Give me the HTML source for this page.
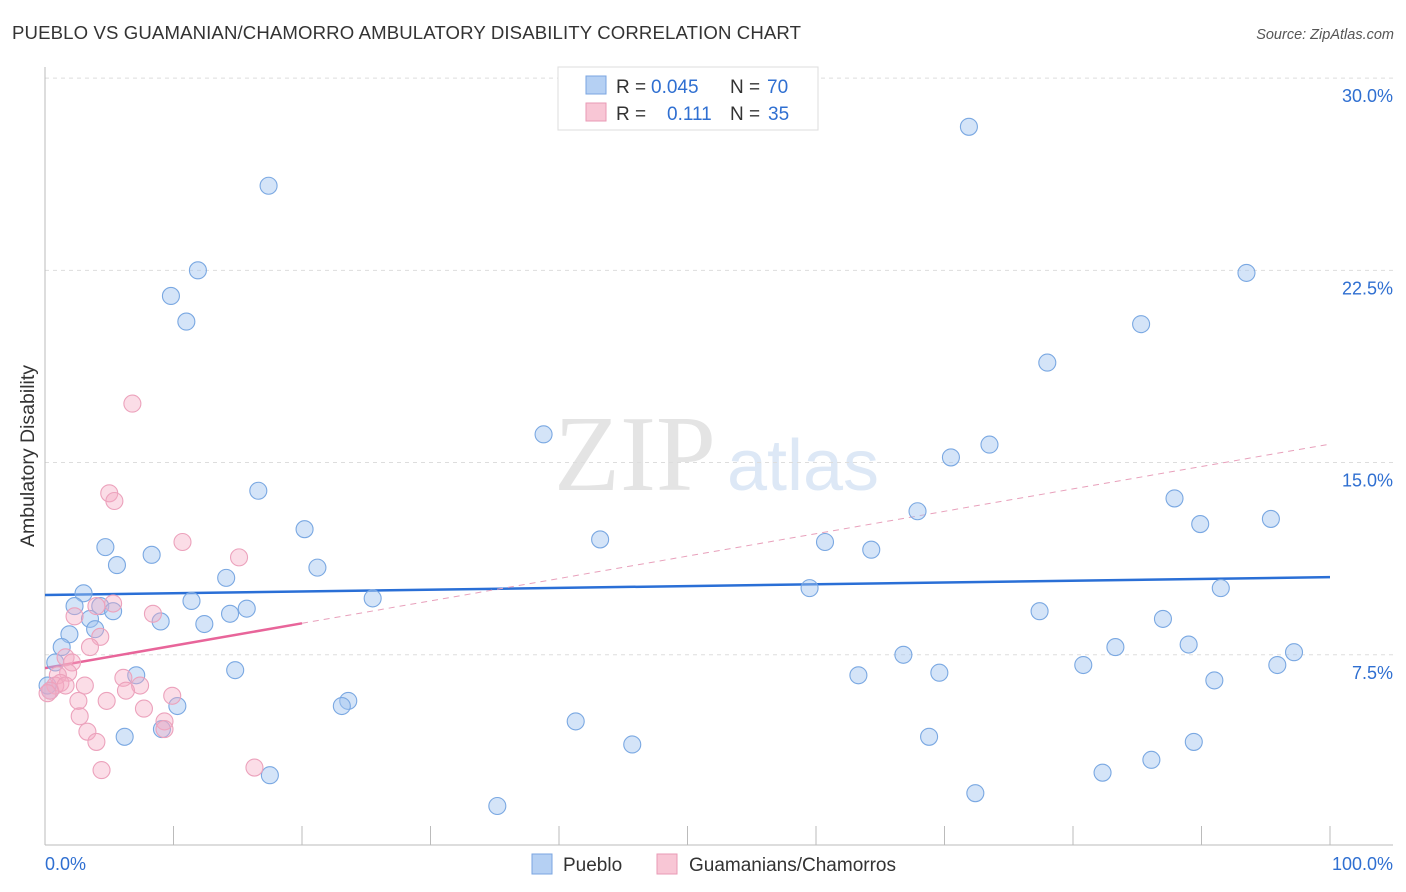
<!DOCTYPE html>
<html><head><meta charset="utf-8"><style>
body{margin:0;background:#fff;font-family:"Liberation Sans",sans-serif;}
svg{display:block}
</style></head><body>
<svg id="chart" width="1406" height="892">
<text x="12" y="39" font-size="18.6" fill="#333" textLength="789">PUEBLO VS GUAMANIAN/CHAMORRO AMBULATORY DISABILITY CORRELATION CHART</text>
<text x="1394" y="39" font-size="14.5" fill="#555" font-style="italic" text-anchor="end">Source: ZipAtlas.com</text>
<text transform="translate(34,456) rotate(-90)" font-size="19.5" fill="#333" text-anchor="middle">Ambulatory Disability</text>
<g><text x="635" y="490" font-size="108" fill="#e4e4e4" font-family="Liberation Serif,serif" text-anchor="middle">ZIP</text><text x="803" y="490" font-size="72" fill="#dde8f6" text-anchor="middle">atlas</text></g>
<g id="grid"></g><g id="axes"></g><g id="trends"></g><g id="pts"></g>
<g>
<rect x="558" y="67" width="260" height="63" fill="#fff" stroke="#ddd"/>
<rect x="586" y="76" width="20" height="18" fill="#b5d0f3" stroke="#7aa5e0"/>
<g font-size="19">
<text x="616" y="93" fill="#333">R =</text><text x="651" y="93" fill="#2f6fd1">0.045</text><text x="730" y="93" fill="#333">N =</text><text x="767" y="93" fill="#2f6fd1">70</text></g>
<rect x="586" y="103" width="20" height="18" fill="#f8c6d5" stroke="#e99ab5"/>
<g font-size="19">
<text x="616" y="120" fill="#333">R =</text><text x="667" y="120" fill="#2f6fd1">0.111</text><text x="730" y="120" fill="#333">N =</text><text x="768" y="120" fill="#2f6fd1">35</text></g>
</g>
<g>
<rect x="532" y="854" width="20" height="20" fill="#b5d0f3" stroke="#7aa5e0"/>
<text x="563" y="871" font-size="19" fill="#333">Pueblo</text>
<rect x="657" y="854" width="20" height="20" fill="#f8c6d5" stroke="#e99ab5"/>
<text x="689" y="871" font-size="19" fill="#333">Guamanians/Chamorros</text>
</g>
</svg>
<script>
const yTicks=[7.5,15,22.5,30];
const yTickLabels=["7.5%","15.0%","22.5%","30.0%"];
const xTickCount=10;
const blueX=[17.4,11.9,9.8,11.0,71.9,93.5,85.3,78.0,38.8,70.5,73.5,16.6,87.9,67.9,95.4,89.9,20.2,43.2,60.7,64.3,4.7,8.3,5.6,21.2,14.1,3.0,59.5,91.5,11.4,25.5,2.3,4.3,5.3,15.7,14.4,3.5,9.0,77.4,87.0,12.4,3.9,1.9,1.3,83.3,89.0,66.8,97.2,0.8,80.8,95.9,7.1,14.8,63.3,69.6,91.0,23.6,23.1,10.3,9.1,41.3,6.2,68.8,45.7,89.4,86.1,82.3,17.5,72.4,35.2,0.4,0.2];
const blueY=[25.8,22.5,21.5,20.5,28.1,22.4,20.4,18.9,16.1,15.2,15.7,13.9,13.6,13.1,12.8,12.6,12.4,12.0,11.9,11.6,11.7,11.4,11.0,10.9,10.5,9.9,10.1,10.1,9.6,9.7,9.4,9.4,9.2,9.3,9.1,8.9,8.8,9.2,8.9,8.7,8.5,8.3,7.8,7.8,7.9,7.5,7.6,7.2,7.1,7.1,6.7,6.9,6.7,6.8,6.5,5.7,5.5,5.5,4.6,4.9,4.3,4.3,4.0,4.1,3.4,2.9,2.8,2.1,1.6,6.1,6.3];
const pinkX=[6.8,5.0,5.4,10.7,15.1,2.3,4.0,5.3,8.4,4.3,3.5,1.6,2.1,1.8,1.0,1.2,0.8,0.4,0.2,3.1,6.1,7.4,6.3,9.9,2.6,4.8,7.7,2.7,9.3,3.3,9.3,4.0,4.4,16.3,1.6];
const pinkY=[17.3,13.8,13.5,11.9,11.3,9.0,9.4,9.5,9.1,8.2,7.8,7.4,7.2,6.8,6.7,6.4,6.3,6.1,6.0,6.3,6.6,6.3,6.1,5.9,5.7,5.7,5.4,5.1,4.9,4.5,4.6,4.1,3.0,3.1,6.3];
const blueTrend=[9.83,10.53];
const pinkTrend=[6.98,15.72];
const pinkSolidEnd=20;
const NS="http://www.w3.org/2000/svg";
const X0=45,X1=1330,Y0=847,YS=25.63;
function sx(v){return X0+(X1-X0)*v/100;}
function sy(v){return Y0-v*YS;}
function mk(p,tag,at){const e=document.createElementNS(NS,tag);for(const k in at)e.setAttribute(k,at[k]);document.getElementById(p).appendChild(e);return e;}
yTicks.forEach((t,i)=>{
const g=mk('grid','line',{x1:45,x2:1393,y1:sy(t),y2:sy(t),stroke:'#ddd','stroke-dasharray':'4,4'});


const l=mk('grid','text',{x:1393,y:sy(t)+24,'font-size':18,fill:'#2f6fd1','text-anchor':'end'});
l.textContent=yTickLabels[i];


});
const ax=mk('axes','line',{x1:45,x2:45,y1:67,y2:845,stroke:'#bbb'});


const bx=mk('axes','line',{x1:45,x2:1393,y1:845,y2:845,stroke:'#bbb'});


for(let i=1;i<=xTickCount;i++){
const t=mk('axes','line',{x1:sx(i*10),x2:sx(i*10),y1:826,y2:845,stroke:'#bbb'});


}
const xl=mk('axes','text',{x:45,y:870,'font-size':18,fill:'#2f6fd1'});xl.textContent='0.0%';


const xr=mk('axes','text',{x:1393,y:870,'font-size':18,fill:'#2f6fd1','text-anchor':'end'});xr.textContent='100.0%';


blueX.forEach((v,i)=>{
const c=mk('pts','circle',{cx:sx(v),cy:sy(blueY[i]),r:8.5,fill:'rgba(160,195,240,0.45)',stroke:'#7aa8e2','stroke-width':1.1});


});
pinkX.forEach((v,i)=>{
const c=mk('pts','circle',{cx:sx(v),cy:sy(pinkY[i]),r:8.5,fill:'rgba(245,170,195,0.4)',stroke:'#eca2bc','stroke-width':1.1});


});
const bt=mk('trends','line',{x1:sx(0),y1:sy(blueTrend[0]),x2:sx(100),y2:sy(blueTrend[1]),stroke:'#2a6fd6','stroke-width':2.5});


const pm=pinkTrend[0]+(pinkTrend[1]-pinkTrend[0])*pinkSolidEnd/100;
const pt=mk('trends','line',{x1:sx(0),y1:sy(pinkTrend[0]),x2:sx(pinkSolidEnd),y2:sy(pm),stroke:'#e8659a','stroke-width':2.5});


const pd=mk('trends','line',{x1:sx(pinkSolidEnd),y1:sy(pm),x2:sx(100),y2:sy(pinkTrend[1]),stroke:'#e8a0bb','stroke-width':1,'stroke-dasharray':'6,5'});


</script>
</body></html>
